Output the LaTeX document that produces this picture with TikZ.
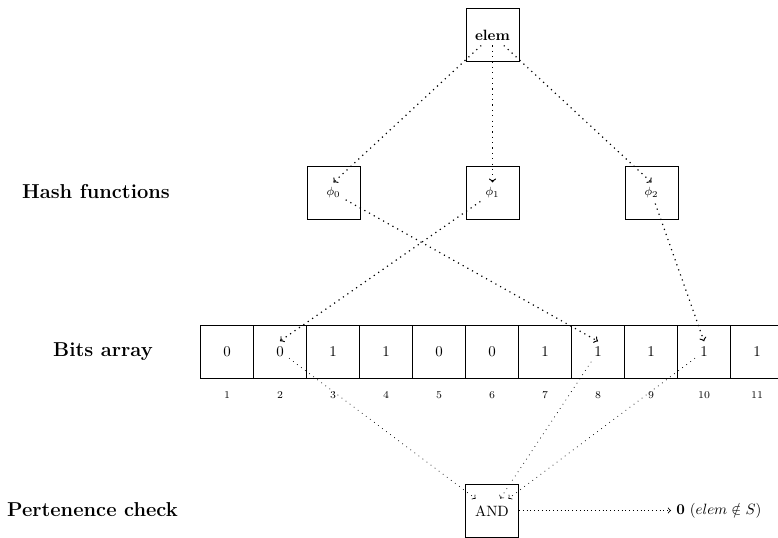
\documentclass[tikz,border=0pt]{standalone}
\begin{document}
\begin{tikzpicture}[x=0.671pt,y=-0.671pt,
  box/.style={draw, line width=0.6pt, minimum width=35.6pt, minimum height=35.6pt, inner sep=0pt},
  rowlabel/.style={font=\fontsize{13.5}{16}\selectfont\bfseries},
  bitval/.style={font=\normalsize},
  idx/.style={font=\scriptsize},
  hashlbl/.style={font=\footnotesize},
  hasharrow/.style={->, line width=0.8pt, dash pattern=on 0.8pt off 2.8pt},
  checkline/.style={->, line width=0.5pt, dash pattern=on 0.5pt off 2.9pt},
  resarrow/.style={->, line width=0.55pt, dash pattern=on 0.55pt off 2pt}]
\useasboundingbox (0,0) rectangle (778,538);
\clip (0,0) rectangle (778,538);

% row labels
\node[rowlabel] (lhash) at (96,192) {Hash functions};
\node[rowlabel] (lbits) at (103,352) {Bits array};
\node[rowlabel] (lcheck) at (92.5,510) {Pertenence check};

% element to insert / look up
\node[box] (elembox) at (492.5,34.5) {};
\node[font=\bfseries] (elem) at (492.5,35) {elem};

% hash functions
\foreach \k/\x in {0/333.5,1/492.5,2/651.5}{
  \node[box] (hbox\k) at (\x,192.5) {};
  \node[hashlbl] (phi\k) at (\x,193) {$\phi_{\k}$};
}

% bits array with indices
\foreach \i/\v in {1/0,2/0,3/1,4/1,5/0,6/0,7/1,8/1,9/1,10/1,11/1}{
  \pgfmathsetmacro{\cx}{227+53*(\i-1)}
  \node[box] (cell\i) at (\cx,351.5) {};
  \node[bitval] (b\i) at (\cx,351.5) {\v};
  \node[idx] (n\i) at (\cx,395) {\i};
}

% membership check
\node[box] (andbox) at (492,510.5) {};
\node[inner xsep=2pt, inner ysep=4.5pt] (andtxt) at (492,511) {AND};
\node[anchor=west] (res) at (671,510.5) {$\mathbf{0}\ (elem \notin S)$};

% hashing the element
\draw[hasharrow] (elem) -- (phi0.north);
\draw[hasharrow] (elem) -- (phi1.north);
\draw[hasharrow] (elem) -- (phi2.north);

% hash values pointing into the array
\draw[hasharrow] (phi0) -- (b8.north);
\draw[hasharrow] (phi1) -- (b2.north);
\draw[hasharrow] (phi2) -- (b10.north);

% selected bits combined
\draw[checkline] (b2) -- (andtxt);
\draw[checkline] (b8) -- (andtxt);
\draw[checkline] (b10) -- (andtxt);

% result
\draw[resarrow] (andbox.east) -- (andbox.east -| res.west);
\end{tikzpicture}
\end{document}
